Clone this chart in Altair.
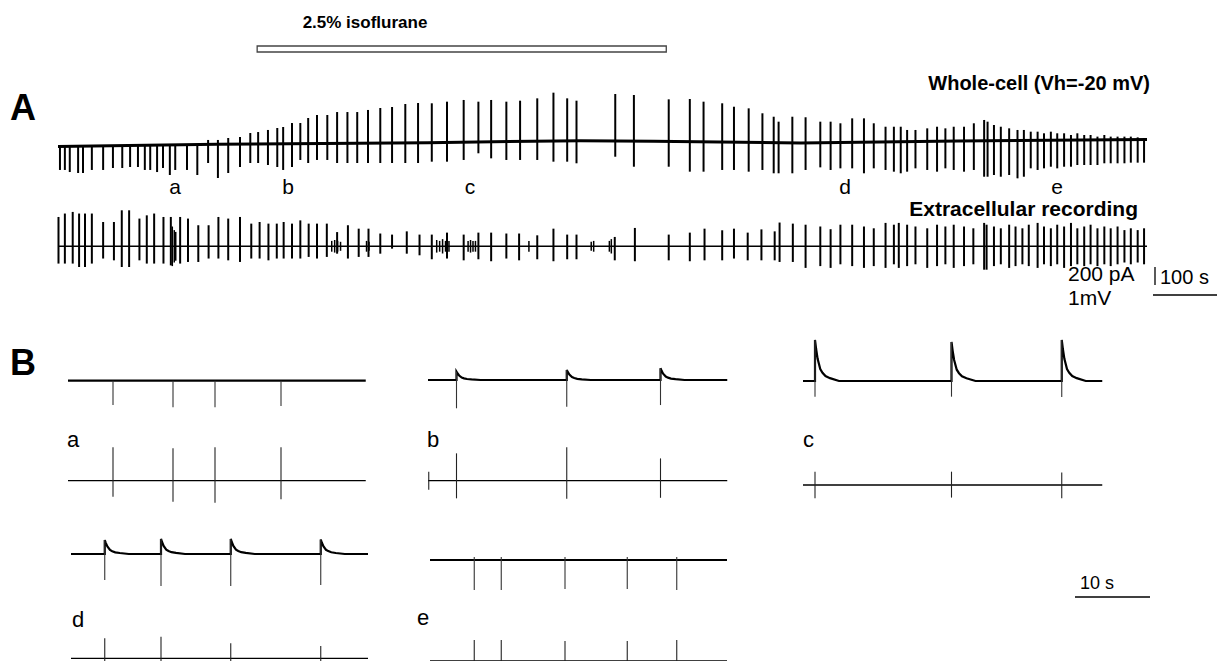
import altair as alt
import pandas as pd

FONT = "Liberation Sans"
W, H = 1209, 653

# ---------------- Panel A (long recording) ----------------
A_T_END = 2220                      # s
ISO_START, ISO_END = 406, 1240      # s, isoflurane application

# whole-cell holding-current drift (s, pA)
A_WC_BASE_T = [0, 324, 753, 1065, 1214, 1514, 1834, 2220]
A_WC_BASE_I = [-5, 20, 37, 59, 52, 33, 56, 72]

# whole-cell spikes: time (s), upper tip (pA), lower tip (pA)
A_WC_T = [4, 14, 24, 41, 51, 69, 92, 112, 131, 147, 163, 177, 188, 202, 214, 228, 239, 263, 284,
          306, 326, 347, 371, 392, 408, 428, 447, 459, 477, 494, 510, 528, 549, 569, 590, 610, 632,
          657, 681, 708, 734,
          762, 793, 827, 857, 883, 914, 942, 977, 1010, 1038, 1057, 1136, 1174, 1245, 1288, 1316,
          1354, 1378, 1408, 1436, 1459, 1469, 1497,
          1524, 1554, 1575, 1595, 1619, 1643, 1663, 1687, 1704, 1718, 1731, 1748, 1772, 1792, 1809,
          1826, 1847, 1867, 1888, 1895, 1908, 1922, 1939, 1956, 1969, 1983, 1997, 2010, 2024, 2037,
          2051, 2065, 2078, 2092, 2105, 2119, 2133, 2146, 2160, 2174, 2187, 2201, 2214]
A_WC_UP = [0] * 19 + [67, 67, 89, 100, 144, 155, 178, 200, 211, 255, 255, 311, 344, 344, 377, 377,
                      377, 400, 422, 433, 466, 477] + \
          [474, 492, 511, 492, 511, 492, 503, 529, 592, 529, 503, 577, 566, 518, 522, 492, 474, 436,
           418, 363, 325, 270, 325] + \
          [319, 270, 270, 252, 307, 307, 252, 214, 214, 214, 178, 178, 196, 214, 196, 214, 214, 252,
           289, 270, 233, 214, 196, 178, 178, 159, 159, 141, 159, 141, 141, 122, 141, 122, 122, 104,
           122, 104, 104, 104, 104, 96, 85]
A_WC_DN = [-266, -266, -289, -300, -300, -266, -266, -244, -244, -233, -233, -266, -266, -289, -244,
           -322, -266, -266, -322, -189, -355, -300, -233, -189, -189, -211, -233, -266, -233, -155,
           -189, -155, -155, -189, -189, -189, -189, -189, -189, -189, -189] + \
          [-174, -174, -155, -81, -137, -155, -155, -155, -174, -174, -192, -119, -230, -230, -285,
           -285, -266, -266, -285, -266, -303, -303, -303] + \
          [-266, -237, -266, -248, -248, -303, -248, -266, -285, -303, -285, -248, -266, -285, -248,
           -266, -285, -266, -341, -341, -322, -341, -322, -359, -341, -248, -266, -248, -230, -248,
           -230, -230, -211, -211, -211, -211, -192, -192, -192, -192, -185, -185, -185]

# extracellular spikes: time (s), upper tip (mV), lower tip (mV)
A_EC_T = [1, 14, 30, 43, 55, 69, 92, 114, 130, 145, 166, 181, 196, 215, 230, 249, 265, 286, 307, 327,
          347, 371, 394, 411, 429, 446, 460, 477, 494, 511, 528, 548, 569, 591, 613, 633, 657, 681,
          711, 737,
          762, 793, 827, 857, 883, 914, 940, 977, 1010, 1038, 1057, 1135, 1176, 1245, 1288, 1318,
          1354, 1378, 1406, 1434, 1461, 1471, 1498,
          1524, 1554, 1575, 1595, 1619, 1643, 1663, 1687, 1704, 1714, 1731, 1748, 1772, 1792, 1809,
          1826, 1847, 1866, 1888, 1893, 1908, 1922, 1939, 1952, 1966, 1979, 1997, 2010, 2024, 2037,
          2051, 2065, 2078, 2092, 2105, 2119, 2133, 2146, 2160, 2174, 2187, 2201, 2214]
A_EC_UP = [1.63, 1.82, 1.91, 1.82, 1.82, 1.82, 1.35, 1.35, 2.0, 2.0, 1.54, 1.72, 1.82, 1.63, 1.63,
           1.63, 1.54, 1.17, 1.17, 1.63, 1.54, 1.63, 1.26, 1.35, 1.26, 1.26, 1.35, 1.26, 1.44, 1.26,
           1.26, 1.26, 0.79, 1.17, 0.98, 0.98, 0.71, 0.65, 0.83, 0.65] + \
          [0.65, 0.76, 0.65, 0.76, 0.76, 0.71, 0.71, 0.61, 0.98, 0.65, 0.65, 0.52, 1.02, 0.65, 0.76,
           0.98, 0.89, 0.98, 0.76, 0.94, 0.83, 1.32, 1.26] + \
          [1.2, 1.1, 0.95, 1.2, 1.2, 1.1, 1.0, 1.3, 1.2, 1.3, 1.2, 1.1, 1.0, 1.2, 1.1, 1.2, 1.1, 1.0,
           1.3, 1.2, 1.1, 1.0, 1.2, 1.1, 1.0, 1.2, 1.3, 1.1, 1.0, 1.2, 1.1, 1.3, 1.0, 1.1, 1.2, 1.0,
           1.1, 1.0, 1.1, 0.9, 1.0, 0.9, 1.0]
A_EC_DN = [-0.96, -0.96, -0.96, -1.15, -1.15, -0.96, -0.68, -0.78, -1.15, -1.15, -0.78, -0.96, -0.96,
           -0.96, -1.06, -0.96, -0.87, -0.87, -0.68, -0.68, -0.78, -0.87, -0.68, -0.68, -0.78, -0.68,
           -0.68, -0.68, -0.68, -0.59, -0.68, -0.59, -0.41, -0.68, -0.59, -0.59, -0.41, -0.13, -0.41,
           -0.5] + \
          [-0.72, -0.68, -0.78, -0.72, -0.83, -0.68, -0.78, -0.72, -0.83, -0.72, -0.72, -0.78, -0.83,
           -0.78, -0.83, -0.78, -0.78, -0.68, -0.78, -0.78, -0.78, -0.87, -0.87] + \
          [-1.2, -1.1, -1.2, -1.0, -1.1, -1.2, -1.1, -1.2, -1.0, -1.2, -1.1, -1.0, -1.2, -1.1, -1.0,
           -1.2, -1.1, -1.0, -1.3, -1.3, -1.1, -1.0, -1.2, -1.1, -1.0, -1.1, -1.2, -1.0, -1.1, -1.0,
           -1.2, -1.1, -1.0, -1.1, -1.0, -1.1, -1.0, -1.1, -1.0, -0.9, -1.0, -0.9, -1.0]
# small extracellular bursts: time (s), amplitude (mV)
A_EC_SMALL_T = [233, 237, 240, 558, 564, 570, 576, 629, 634, 772, 778, 784, 790, 797, 836, 841, 846,
                851, 960, 1087, 1092, 1124, 1128]
A_EC_SMALL_A = [1.1, 0.9, 0.8, 0.3, 0.35, 0.3, 0.25, 0.3, 0.25, 0.35, 0.3, 0.4, 0.3, 0.3, 0.3, 0.35,
                0.3, 0.3, 0.3, 0.25, 0.3, 0.3, 0.4]

# ---------------- Panel B (40 s excerpts) ----------------
B_END = {"a": 39.7, "b": 39.9, "c": 39.9, "d": 39.6, "e": 39.6}
B_WC_T = {"a": [6.0, 14.0, 19.6, 28.4], "b": [3.8, 18.5, 31.0], "c": [1.6, 19.8, 34.5],
          "d": [4.5, 12.0, 21.3, 33.3], "e": [5.9, 9.5, 18.0, 26.3, 32.9]}
B_WC_UP = {"a": [0, 0, 0, 0], "b": [92, 111, 130], "c": [455, 433, 455],
           "d": [155, 167, 167, 160], "e": [33, 33, 33, 33, 33]}
B_WC_DN = {"a": [-270, -295, -295, -281], "b": [-314, -296, -278], "c": [-174, -174, -178],
           "d": [-289, -355, -355, -344], "e": [-333, -333, -322, -322, -333]}
B_DECAY = {"a": False, "b": True, "c": True, "d": True, "e": False}
B_EC_T = {"a": [6.0, 14.0, 19.6, 28.4], "b": [0.1, 3.8, 18.5, 31.0], "c": [1.6, 19.8, 34.5],
          "d": [4.5, 12.0, 21.3, 33.3], "e": [5.9, 9.5, 18.0, 26.3, 32.9]}
B_EC_UP = {"a": [1.86, 1.80, 1.86, 1.86], "b": [0.5, 1.52, 1.86, 1.24], "c": [0.74, 0.74, 0.70],
           "d": [1.11, 1.2, 0.83, 0.68], "e": [1.17, 1.17, 1.11, 1.11, 1.17]}
B_EC_DN = {"a": [-0.89, -1.17, -1.22, -1.03], "b": [-0.5, -0.98, -1.0, -0.95],
           "c": [-0.74, -0.70, -0.74], "d": [-1.0, -1.0, -1.0, -1.0],
           "e": [-1.0, -1.0, -1.0, -1.0, -1.0]}
# EPSC-like decay after each outward peak: delay (s), fraction of peak
DECAY_DT = [0, 0.15, 0.35, 0.7, 1.0, 1.4, 2.0, 3.2]
DECAY_FR = [1, 0.78, 0.54, 0.29, 0.2, 0.12, 0.07, 0.0]

# text
TXT_ISO = "2.5% isoflurane"
TXT_WC = "Whole-cell (Vh=-20 mV)"
TXT_EC = "Extracellular recording"
LETTERS = ["a", "b", "c", "d", "e"]


def sc(dom, rng):
    return alt.Scale(domain=dom, range=rng, nice=False, zero=False)


def trace(df, xs, ys, mark):
    return alt.Chart(df).mark_line(**mark).encode(
        x=alt.X("t:Q", scale=xs, axis=None),
        y=alt.Y("v:Q", scale=ys, axis=None),
        order=alt.Order("i:Q"))


def spikes(df, xs, ys, mark):
    return alt.Chart(df).mark_rule(**mark).encode(
        x=alt.X("t:Q", scale=xs, axis=None),
        y=alt.Y("dn:Q", scale=ys, axis=None),
        y2="up:Q")


def label(text, x, y, size, weight="normal", align="left"):
    return alt.Chart(pd.DataFrame({"s": [text]})).mark_text(
        font=FONT, fontSize=size, fontWeight=weight, align=align,
        baseline="alphabetic", color="black").encode(
        x=alt.value(x), y=alt.value(y), text="s:N")


def hline(x1, x2, y, w=1.3):
    return alt.Chart(pd.DataFrame({"k": [0]})).mark_rule(color="black", strokeWidth=w).encode(
        x=alt.value(x1), x2=alt.value(x2), y=alt.value(y))


def vline(x, y1, y2, w=1.3):
    return alt.Chart(pd.DataFrame({"k": [0]})).mark_rule(color="black", strokeWidth=w).encode(
        x=alt.value(x), y=alt.value(y1), y2=alt.value(y2))


layers = []

# ---- Panel A ----
A_X = sc([0, A_T_END], [50, 1139])
A_WC_Y = sc([-555, 555], [188, 88])
A_EC_Y = sc([-2, 2], [274.3, 202.3])

layers.append(spikes(pd.DataFrame({"t": A_WC_T, "up": A_WC_UP, "dn": A_WC_DN}), A_X, A_WC_Y,
                     dict(color="black", strokeWidth=2)))
layers.append(trace(pd.DataFrame({"t": A_WC_BASE_T, "v": A_WC_BASE_I,
                                  "i": list(range(len(A_WC_BASE_T)))}), A_X, A_WC_Y,
                    dict(color="black", strokeWidth=3)))
layers.append(spikes(pd.DataFrame({"t": A_EC_T, "up": A_EC_UP, "dn": A_EC_DN}), A_X, A_EC_Y,
                     dict(color="black", strokeWidth=2)))
layers.append(spikes(pd.DataFrame({"t": A_EC_SMALL_T, "up": A_EC_SMALL_A,
                                   "dn": [-a for a in A_EC_SMALL_A]}), A_X, A_EC_Y,
                     dict(color="black", strokeWidth=1.5)))
layers.append(trace(pd.DataFrame({"t": [0, A_T_END], "v": [0, 0], "i": [0, 1]}), A_X, A_EC_Y,
                    dict(color="black", strokeWidth=1.6)))

# isoflurane bar
layers.append(alt.Chart(pd.DataFrame({"t0": [ISO_START], "t1": [ISO_END]})).mark_rect(
    fill="white", stroke="#444", strokeWidth=1.3).encode(
    x=alt.X("t0:Q", scale=A_X, axis=None), x2="t1:Q", y=alt.value(38), y2=alt.value(44)))

# ---- Panel B ----
B_POS = {"a": (60, 372.7, 472.7), "b": (420, 372, 472.7), "c": (795, 373, 477),
         "d": (63, 546, 650.3), "e": (422, 552, 653)}
for k in LETTERS:
    x0, ywc, yec = B_POS[k]
    bx = sc([0, 40], [x0, x0 + 300])
    bwc = sc([-555, 555], [ywc + 50, ywc - 50])
    bec = sc([-2, 2], [yec + 36, yec - 36])
    # whole-cell continuous trace
    tt, vv = [0.0], [0.0]
    if B_DECAY[k]:
        for t, up in zip(B_WC_T[k], B_WC_UP[k]):
            tt.append(t)
            vv.append(0.0)
            for dt, fr in zip(DECAY_DT, DECAY_FR):
                tt.append(t + dt)
                vv.append(up * fr)
    tt.append(B_END[k])
    vv.append(0.0)
    layers.append(trace(pd.DataFrame({"t": tt, "v": vv, "i": list(range(len(tt)))}), bx, bwc,
                        dict(color="black", strokeWidth=2.2)))
    layers.append(spikes(pd.DataFrame({"t": B_WC_T[k], "up": B_WC_UP[k], "dn": B_WC_DN[k]}),
                         bx, bwc, dict(color="#333", strokeWidth=1.1)))
    # extracellular trace
    layers.append(trace(pd.DataFrame({"t": [0, B_END[k]], "v": [0, 0], "i": [0, 1]}), bx, bec,
                        dict(color="black", strokeWidth=1.3)))
    layers.append(spikes(pd.DataFrame({"t": B_EC_T[k], "up": B_EC_UP[k], "dn": B_EC_DN[k]}),
                         bx, bec, dict(color="#222", strokeWidth=1.1)))

# ---- texts ----
layers += [
    label("A", 2, 112, 36, "bold"),
    label("B", 2, 367, 36, "bold"),
    label(TXT_ISO, 357, 20, 17, "bold", "center"),
    label(TXT_WC, 1142, 82, 20, "bold", "right"),
    label(TXT_EC, 1130, 208, 21, "bold", "right"),
]
for k, xc in zip(LETTERS, [167, 280, 462, 837, 1049]):
    layers.append(label(k, xc, 186, 21, "normal", "center"))
for k, (lx, ly) in zip(LETTERS, [(59, 439), (419, 439), (795, 439), (64, 619), (409, 617)]):
    layers.append(label(k, lx, ly, 22))

# scale bars
layers += [
    label("200 pA", 1060, 273, 21),
    label("1mV", 1060, 297, 21),
    vline(1147, 259, 277),
    label("100 s", 1152, 276, 20),
    hline(1145, 1215, 287),
    label("10 s", 1089, 581, 18, "normal", "center"),
    hline(1067, 1142, 589),
]

chart = alt.layer(*layers).resolve_scale(x="independent", y="independent").properties(
    width=W, height=H, padding=0, autosize="none", background="white"
).configure_view(strokeWidth=0)

chart.save("out.html", embed_options={"renderer": "svg", "actions": False})
